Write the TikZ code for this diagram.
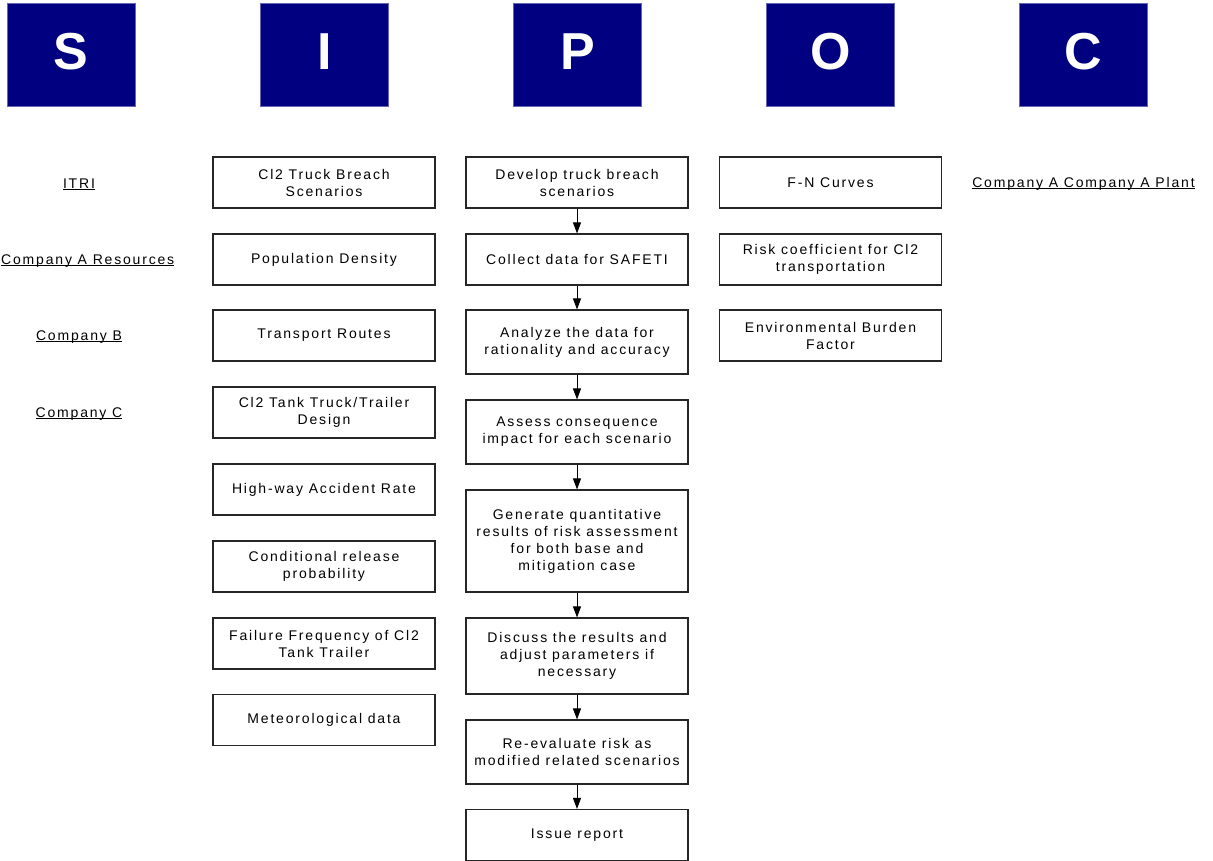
\documentclass[tikz,border=0pt]{standalone}
\usepackage{fontspec}
\setmainfont{Liberation Sans}
\newfontfamily\spaced[LetterSpace=13]{Liberation Sans}
\usetikzlibrary{arrows.meta}
\definecolor{navy}{HTML}{000080}
\tikzset{
  hdr/.style={fill=navy, draw=navy!60, line width=0.8pt, minimum width=128pt, minimum height=103pt, inner sep=0pt},
  hdrtext/.style={text=white, font=\fontsize{52}{52}\selectfont\bfseries, inner sep=0pt, anchor=base},
  box/.style={draw=black!85, line width=1.1pt, minimum width=222pt, inner sep=0pt, align=center,
     font=\spaced\fontsize{14}{17}\selectfont},
  lab/.style={inner sep=0pt, font=\spaced\fontsize{14}{17}\selectfont},
  flow/.style={-{Triangle[length=11pt,width=8pt]}, line width=0.9pt, black}
}
\newcommand{\ul}[1]{{\setbox0\hbox{#1}\rlap{\rule[-1.6pt]{\wd0}{0.8pt}}\box0}}
\begin{document}
\begin{tikzpicture}[x=1pt,y=-1pt]
\useasboundingbox (0,0) rectangle (1213,861);
% headers
\node[hdr] (hS) at (71,54.5) {};
\node[hdr] (hI) at (324.5,54.5) {};
\node[hdr] (hP) at (577.5,54.5) {};
\node[hdr] (hO) at (830.5,54.5) {};
\node[hdr] (hC) at (1083.5,54.5) {};
\foreach \n/\t in {hS/S,hI/I,hP/P,hO/O,hC/C}
  \node[hdrtext] (\n t) at ([yshift=-15.5pt]\n.center) {\t};
% suppliers
\node[lab] (s1) at (79,184) {\ul{ITRI}};
\node[lab, anchor=west] (s2) at (1,261) {\ul{Company A Resources}};
\node[lab] (s3) at (79,337) {\ul{Company B}};
\node[lab] (s4) at (79,414) {\ul{Company C}};
% inputs
\node[box, minimum height=51pt] (i1) at (324,182.5) {Cl2 Truck Breach\\Scenarios};
\node[box, minimum height=51pt] (i2) at (324,259.5) {Population Density};
\node[box, minimum height=51pt] (i3) at (324,335.5) {Transport Routes};
\node[box, minimum height=51pt] (i4) at (324,412.5) {Cl2 Tank Truck/Trailer\\Design};
\node[box, minimum height=51pt] (i5) at (324,489.5) {High-way Accident Rate};
\node[box, minimum height=51pt] (i6) at (324,566.5) {Conditional release\\probability};
\node[box, minimum height=51pt] (i7) at (324,643.5) {Failure Frequency of Cl2\\Tank Trailer};
\node[box, minimum height=51pt] (i8) at (324,720) {Meteorological data};
% process
\node[box, minimum height=51pt] (p1) at (577,182.5) {Develop truck breach\\scenarios};
\node[box, minimum height=51pt] (p2) at (577,259.5) {Collect data for SAFETI};
\node[box, minimum height=64pt] (p3) at (577,342) {Analyze the data for\\rationality and accuracy};
\node[box, minimum height=64pt] (p4) at (577,432) {Assess consequence\\impact for each scenario};
\node[box, minimum height=102pt] (p5) at (577,541) {Generate quantitative\\results of risk assessment\\for both base and\\mitigation case};
\node[box, minimum height=76pt] (p6) at (577,656) {Discuss the results and\\adjust parameters if\\necessary};
\node[box, minimum height=64pt] (p7) at (577,752) {Re-evaluate risk as\\modified related scenarios};
\node[box, minimum height=51pt] (p8) at (577,835) {Issue report};
% outputs
\node[box, minimum height=51pt] (o1) at (830.5,182.5) {F-N Curves};
\node[box, minimum height=51pt] (o2) at (830.5,259.5) {Risk coefficient for Cl2\\transportation};
\node[box, minimum height=51pt] (o3) at (830.5,335.5) {Environmental Burden\\Factor};
% customers
\node[lab] (c1) at (1083.5,184) {\ul{Company A Company A Plant}};
% arrows
\foreach \a/\b in {p1/p2,p2/p3,p3/p4,p4/p5,p5/p6,p6/p7,p7/p8}
  \draw[flow] (\a.south) -- (\b.north);
\end{tikzpicture}
\end{document}
